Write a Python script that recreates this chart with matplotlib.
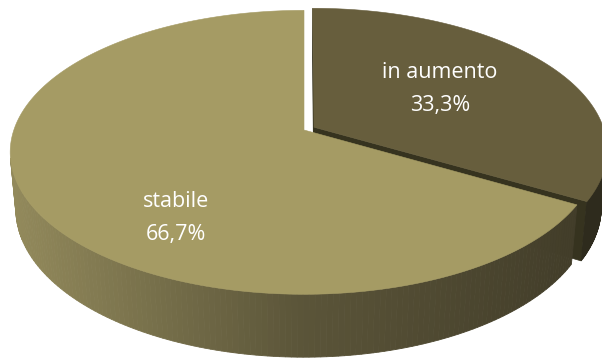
import numpy as np
import matplotlib
matplotlib.use("Agg")
import matplotlib.pyplot as plt
from matplotlib.patches import Polygon

# data
labels = ["in aumento", "stabile"]
values = [33.3, 66.7]
pct_labels = ["33,3%", "66,7%"]
top_colors = ["#675E3D", "#A59B64"]
explode = [0.04, 0.0]

# label centres (pixels)
label_pos = [(440, 89), (176, 218)]

W, H = 602, 358
fig = plt.figure(figsize=(W / 100, H / 100), dpi=100)
ax = fig.add_axes([0, 0, 1, 1])
ax.set_xlim(0, W)
ax.set_ylim(H, 0)
ax.axis("off")

# perspective camera looking down onto the pie
phi = np.radians(28.5)
cphi, sphi = np.cos(phi), np.sin(phi)
D = 5.59
f = 1622.0
cx, cy = 304.0, 130.0
thick = 0.225
cam = np.array([0.0, -D * cphi, D * sphi])


def proj(X, Y, Z):
    X = np.asarray(X, float)
    Y = np.asarray(Y, float)
    Z = np.asarray(Z, float)
    d = D + Y * cphi - Z * sphi
    up = Y * sphi + Z * cphi
    return cx + f * X / d, cy - f * up / d


def mix(c1, c2, t):
    a = np.array(matplotlib.colors.to_rgb(c1))
    b = np.array(matplotlib.colors.to_rgb(c2))
    return tuple(a + (b - a) * t)


def side_color_stabile(x):
    # horizontal shading of the rim, light on the left to dark on the right
    stops_x = [0, 300, 600]
    stops_c = ["#958C5D", "#5B5539", "#403B28"]
    for i in range(len(stops_x) - 1):
        if x <= stops_x[i + 1]:
            t = (x - stops_x[i]) / (stops_x[i + 1] - stops_x[i])
            return mix(stops_c[i], stops_c[i + 1], min(max(t, 0), 1))
    return matplotlib.colors.to_rgb(stops_c[-1])


def side_color_aumento(x):
    return matplotlib.colors.to_rgb("#2E2B1D")


side_shaders = [side_color_aumento, side_color_stabile]
radial_colors = ["#36331F", "#4A4530"]

total = sum(values)
start = 90.0
slices = []
for v, e in zip(values, explode):
    sweep = 360.0 * v / total
    th1, th2 = start, start - sweep
    mid = np.radians((th1 + th2) / 2)
    off = np.array([e * np.cos(mid), e * np.sin(mid)])
    slices.append((np.radians(th1), np.radians(th2), off))
    start = th2

tops = []
for idx, (t1, t2, off) in enumerate(slices):
    n = 240
    th = np.linspace(t1, t2, n)
    X = off[0] + np.cos(th)
    Y = off[1] + np.sin(th)

    # radial faces
    for tb, sign in ((t1, 1), (t2, -1)):
        nrm = np.array([-np.sin(tb), np.cos(tb)]) * sign
        p = np.array([off[0], off[1], 0.0])
        if np.dot(p[:2] - cam[:2], nrm) < 0:
            xs = [off[0], off[0] + np.cos(tb), off[0] + np.cos(tb), off[0]]
            ys = [off[1], off[1] + np.sin(tb), off[1] + np.sin(tb), off[1]]
            zs = [0, 0, -thick, -thick]
            px, py = proj(xs, ys, zs)
            ax.add_patch(Polygon(np.c_[px, py], closed=True,
                                 facecolor=radial_colors[idx],
                                 edgecolor=radial_colors[idx], lw=0.5))

    # outer rim
    for i in range(n - 1):
        tm = 0.5 * (th[i] + th[i + 1])
        P = np.array([off[0] + np.cos(tm), off[1] + np.sin(tm), 0.0])
        nrm = np.array([np.cos(tm), np.sin(tm), 0.0])
        if np.dot(P - cam, nrm) >= 0:
            continue
        xs = [X[i], X[i + 1], X[i + 1], X[i]]
        ys = [Y[i], Y[i + 1], Y[i + 1], Y[i]]
        zs = [0, 0, -thick, -thick]
        px, py = proj(xs, ys, zs)
        col = side_shaders[idx](px.mean())
        ax.add_patch(Polygon(np.c_[px, py], closed=True, facecolor=col,
                             edgecolor=col, lw=0.6))

    # top face
    tx = np.r_[off[0], X]
    ty = np.r_[off[1], Y]
    px, py = proj(tx, ty, np.zeros_like(tx))
    tops.append((np.c_[px, py], top_colors[idx]))

for poly, col in tops:
    ax.add_patch(Polygon(poly, closed=True, facecolor=col, edgecolor=col, lw=0.4))

for lab, pct, (lx, ly) in zip(labels, pct_labels, label_pos):
    ax.text(lx, ly, f"{lab}\n{pct}", color="white", ha="center", va="center",
            fontsize=15.5, family="Open Sans", linespacing=1.75)

fig.savefig("out.png", dpi=100)
